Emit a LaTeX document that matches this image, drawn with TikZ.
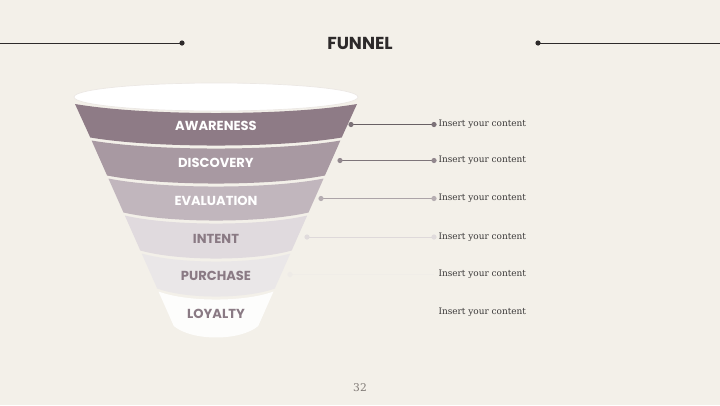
\documentclass[tikz,border=0pt]{standalone}
\usepackage{fontspec}
\newfontfamily\headfont{Poppins}
\newfontfamily\copyfont{DejaVu Serif}

\definecolor{bgcream}{RGB}{243,240,233}
\definecolor{bandA}{RGB}{142,123,134}
\definecolor{bandD}{RGB}{168,153,162}
\definecolor{bandE}{RGB}{193,182,189}
\definecolor{bandI}{RGB}{224,218,222}
\definecolor{bandP}{RGB}{234,231,232}
\definecolor{bandL}{RGB}{253,253,252}
\definecolor{labelgray}{RGB}{138,122,132}
\definecolor{inkdark}{RGB}{45,42,42}
\definecolor{copygray}{RGB}{58,56,56}

\tikzset{every picture/.style={line width=0.75pt}}
\tikzset{
  stage/.style={inner sep=0.75pt, font=\headfont\bfseries\fontsize{9.8}{11}\selectfont},
  copytext/.style={anchor=west, inner sep=3pt, text=copygray, font=\copyfont\fontsize{6.7}{8}\selectfont},
  leader/.style={line width=0.75pt}
}

\begin{document}
\begin{tikzpicture}[x=0.75pt,y=0.75pt,yscale=-1,xscale=1]
		\useasboundingbox (0,0) rectangle (720,405);
		\fill [bgcream] (0,0) rectangle (720,405);
		
		%title with side rules
		\node (title) [inner sep=0.75pt, text=inkdark, font=\headfont\bfseries\fontsize{13}{15}\selectfont] at (360,43) {FUNNEL};
		\coordinate (ruleL) at (182,43);
		\coordinate (ruleR) at (538,43);
		\draw [inkdark] (0,43) -- (ruleL) ;
		\draw [inkdark] (ruleR) -- (720,43) ;
		\fill [inkdark] (ruleL) circle (2.6) (ruleR) circle (2.6) ;
		
		%funnel mouth
		\draw [draw={rgb, 255:red, 236; green, 232; blue, 228 }, fill=white, line width=0.5pt] (216,97) ellipse (142 and 14) ;
		
		%bands
		\draw [draw=none, fill=bandA] (75,104) .. controls (145.5,116) and (286.5,116) .. (357,104) -- (341.7,137.5) .. controls (278.8,148.2) and (153.2,148.2) .. (90.3,137.5) -- cycle ;
		\draw [draw=none, fill=bandD] (91.6,140.5) .. controls (153.8,151.2) and (278.2,151.2) .. (340.4,140.5) -- (324.9,175.5) .. controls (270.4,186.2) and (161.6,186.2) .. (107.1,175.5) -- cycle ;
		\draw [draw=none, fill=bandE] (108.4,178.5) .. controls (162.2,189.2) and (269.8,189.2) .. (323.6,178.5) -- (308.5,212.5) .. controls (262.2,223.2) and (169.8,223.2) .. (123.5,212.5) -- cycle ;
		\draw [draw=none, fill=bandI] (124.8,215.5) .. controls (170.4,226.2) and (261.6,226.2) .. (307.2,215.5) -- (291.7,250.5) .. controls (253.8,261.2) and (178.2,261.2) .. (140.3,250.5) -- cycle ;
		\draw [draw=none, fill=bandP] (141.7,253.5) .. controls (178.9,264.2) and (253.1,264.2) .. (290.3,253.5) -- (274.8,288.5) .. controls (245.4,299.2) and (186.6,299.2) .. (157.2,288.5) -- cycle ;
		\draw [draw=none, fill=bandL] (158.5,291.5) .. controls (187.3,302.2) and (244.7,302.2) .. (273.5,291.5) -- (258.2,326) .. controls (240.1,341.3) and (191.9,341.3) .. (173.8,326) -- cycle ;
		
		\node (awareness) [stage, text=white] at (216,126) {AWARENESS};
		\node (discovery) [stage, text=white] at (216,163) {DISCOVERY};
		\node (evaluation) [stage, text=white] at (216,201) {EVALUATION};
		\node (intent) [stage, text=labelgray] at (216,239) {INTENT};
		\node (purchase) [stage, text=labelgray] at (216,276) {PURCHASE};
		\node (loyalty) [stage, text=labelgray] at (216,314) {LOYALTY};
		
		%content column
		\node (c1) [copytext] at (434,124.5) {Insert your content};
		\node (c2) [copytext] at (434,160.5) {Insert your content};
		\node (c3) [copytext] at (434,198.5) {Insert your content};
		\node (c4) [copytext] at (434,237) {Insert your content};
		\node (c5) [copytext] at (434,274.5) {Insert your content};
		\node (c6) [copytext] at (434,312.5) {Insert your content};
		
		\coordinate (e1) at (351,124.5);
		\coordinate (e2) at (340,160.5);
		\coordinate (e3) at (321,198.5);
		\coordinate (e4) at (307,237);
		\coordinate (e5) at (290,274.5);
		
		\draw [leader, color={rgb, 255:red, 104; green, 96; blue, 100 }] (e1) -- (c1.west) ;
		\fill [color={rgb, 255:red, 124; green, 114; blue, 120 }] (e1) circle (2.6) (c1.west) circle (2.6) ;
		\draw [leader, color={rgb, 255:red, 126; green, 117; blue, 122 }] (e2) -- (c2.west) ;
		\fill [color={rgb, 255:red, 146; green, 136; blue, 142 }] (e2) circle (2.6) (c2.west) circle (2.6) ;
		\draw [leader, color={rgb, 255:red, 172; green, 164; blue, 168 }] (e3) -- (c3.west) ;
		\fill [color={rgb, 255:red, 182; green, 174; blue, 178 }] (e3) circle (2.6) (c3.west) circle (2.6) ;
		\draw [leader, color={rgb, 255:red, 222; green, 217; blue, 218 }] (e4) -- (c4.west) ;
		\fill [color={rgb, 255:red, 224; green, 219; blue, 220 }] (e4) circle (2.6) (c4.west) circle (2.6) ;
		\draw [leader, color={rgb, 255:red, 240; green, 237; blue, 232 }] (e5) -- (c5.west) ;
		\fill [color={rgb, 255:red, 238; green, 235; blue, 231 }] (e5) circle (2.6) ;
		
		%page number
		\node (pageno) [inner sep=0.75pt, text={rgb, 255:red, 128; green, 122; blue, 118 }, font=\copyfont\fontsize{8}{10}\selectfont] at (360,388) {32};
		
	\end{tikzpicture}
\end{document}
